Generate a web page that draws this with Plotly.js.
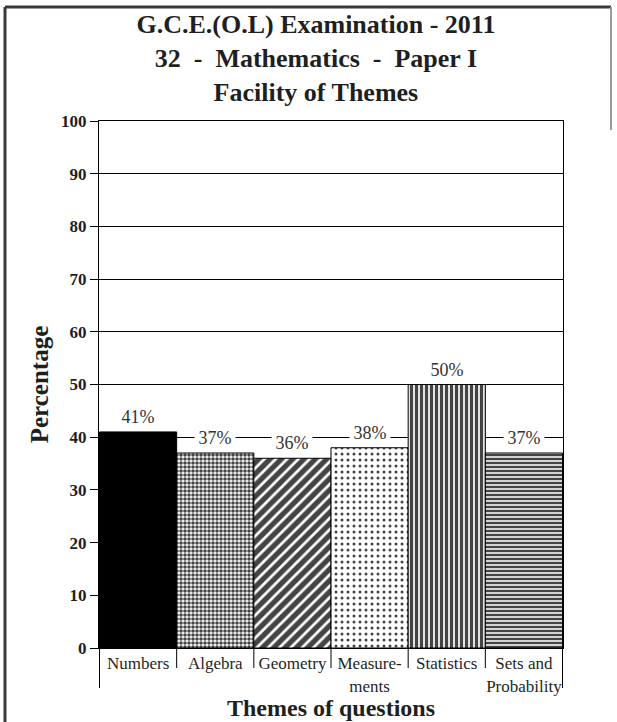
<!DOCTYPE html>
<html>
<head>
<meta charset="utf-8">
<script src="https://cdn.plot.ly/plotly-3.0.1.min.js"></script>
<style>
  html, body { margin: 0; padding: 0; background: #ffffff; }
  #chart { width: 617px; height: 722px; }
</style>
</head>
<body>
<div id="chart"></div>
<script>
// Facility (percentage of correct answers) per theme of questions
const categories = ['Numbers', 'Algebra', 'Geometry', 'Measure-<br>ments', 'Statistics', 'Sets and<br>Probability'];
const facility = [41, 37, 36, 38, 50, 37];
const valueLabels = ['41%', '37%', '36%', '38%', '50%', '37%'];
const yTickValues = [0, 10, 20, 30, 40, 50, 60, 70, 80, 90, 100];

const SERIF = '"Liberation Serif", "Times New Roman", Times, serif';
const INK = '#1f1f1f';

// Black-and-white fills, one per theme
const fillShapes = ['', '.', '/', '.', '|', '-'];
const fillSizes = [6, 4, 8, 6, 5, 4];
const fillSolidity = [0.5, 0.62, 0.66, 0.2, 0.66, 0.62];
const baseColors = ['#000000', '#ffffff', '#ffffff', '#ffffff', '#ffffff', '#ffffff'];

const margin = { l: 99, r: 54, t: 121, b: 74 };
const W = 617, H = 722;
const plotW = W - margin.l - margin.r;
const plotH = H - margin.t - margin.b;
const toPaperX = px => (px - margin.l) / plotW;
const toPaperY = py => (H - margin.b - py) / plotH;

const trace = {
  type: 'bar',
  x: categories,
  y: facility,
  marker: {
    color: baseColors,
    line: { color: '#000000', width: 1 },
    pattern: {
      shape: fillShapes,
      size: fillSizes,
      solidity: fillSolidity,
      fgcolor: '#000000',
      fgopacity: 1,
      fillmode: 'overlay'
    }
  },
  hoverinfo: 'x+y'
};

// Value labels on white boxes so the gridlines break around them
const labelNotes = categories.map((c, i) => ({
  x: c, y: facility[i], xref: 'x', yref: 'y',
  text: valueLabels[i], showarrow: false,
  yanchor: 'bottom', yshift: 2,
  width: 36, borderpad: 2,
  bgcolor: '#ffffff',
  font: { family: SERIF, size: 18, color: '#333333' }
}));

// Category separators below the axis: short inside, long at both ends
const separators = [];
for (let i = 0; i <= categories.length; i++) {
  const outer = (i === 0 || i === categories.length);
  separators.push({
    type: 'line', xref: 'x', yref: 'paper',
    x0: i - 0.5, x1: i - 0.5,
    ysizemode: 'pixel', yanchor: 0,
    y0: 0, y1: outer ? -40 : -20,
    line: { color: '#000000', width: 1 }
  });
}

// Page frame
const frameColor = '#3a3a3a';
const frame = [
  { type: 'line', xref: 'paper', yref: 'paper', x0: toPaperX(5), x1: toPaperX(5), y0: toPaperY(7), y1: toPaperY(730), line: { color: frameColor, width: 3 } },
  { type: 'line', xref: 'paper', yref: 'paper', x0: toPaperX(5), x1: toPaperX(611), y0: toPaperY(7), y1: toPaperY(7), line: { color: frameColor, width: 3 } },
  { type: 'line', xref: 'paper', yref: 'paper', x0: toPaperX(611), x1: toPaperX(611), y0: toPaperY(7), y1: toPaperY(130), line: { color: '#9a9a9a', width: 2 } }
];

const layout = {
  width: W, height: H,
  margin: Object.assign({ pad: 0 }, margin),
  paper_bgcolor: '#ffffff',
  plot_bgcolor: '#ffffff',
  showlegend: false,
  bargap: 0,
  title: {
    text: 'G.C.E.(O.L) Examination - 2011<br>32 &nbsp;- &nbsp;Mathematics &nbsp;- &nbsp;Paper I<br>Facility of Themes',
    font: { family: SERIF, size: 26, color: INK, weight: 'bold' },
    xref: 'container', x: 0.512, xanchor: 'center',
    yref: 'container', y: 1 - 33 / H, yanchor: 'top'
  },
  xaxis: {
    type: 'category',
    showline: true, linecolor: '#000000', linewidth: 1, mirror: true,
    ticks: '', showgrid: false,
    tickfont: { family: SERIF, size: 17, color: INK },
    title: {
      text: 'Themes of questions',
      font: { family: SERIF, size: 24, color: INK, weight: 'bold' },
      standoff: 4
    }
  },
  yaxis: {
    range: [0, 100],
    tickvals: yTickValues,
    ticktext: yTickValues.map(String),
    ticks: 'outside', ticklen: 8, tickcolor: '#000000', tickwidth: 1,
    showline: true, linecolor: '#000000', linewidth: 1, mirror: true,
    showgrid: true, gridcolor: '#000000', gridwidth: 1,
    zeroline: false,
    tickfont: { family: SERIF, size: 17, color: INK, weight: 'bold' },
    title: {
      text: 'Percentage',
      font: { family: SERIF, size: 25, color: INK, weight: 'bold' },
      standoff: 5
    }
  },
  annotations: labelNotes,
  shapes: separators.concat(frame)
};

Plotly.newPlot('chart', [trace], layout, { displayModeBar: false, staticPlot: true });
</script>
</body>
</html>
